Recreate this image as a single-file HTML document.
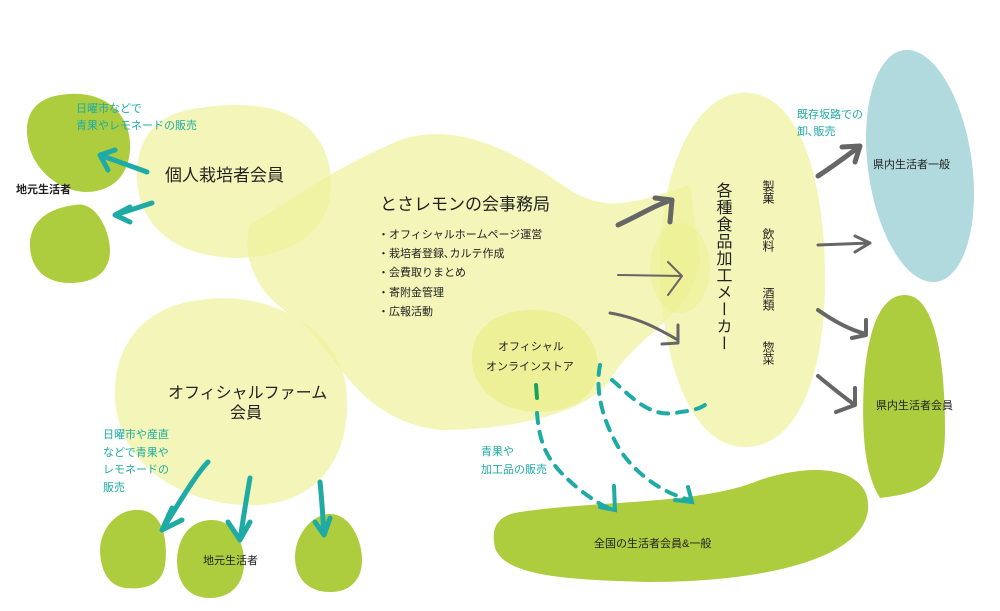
<!DOCTYPE html>
<html><head><meta charset="utf-8"><style>
html,body{margin:0;padding:0;background:#fff;}
svg{display:block;font-family:"Liberation Sans","Noto Sans CJK JP",sans-serif;}
</style></head><body>
<svg width="1000" height="611" viewBox="0 0 1000 611" xmlns="http://www.w3.org/2000/svg">
<path d="M60,95 C100,88 132,110 130,150 C128,178 110,192 85,192 C55,190 28,165 27,132 C26,110 40,98 60,95Z" fill="#adcd3e"/>
<path d="M75,205 C95,200 110,230 110,250 C110,272 95,283 70,283 C45,283 30,268 30,245 C30,220 50,208 75,205Z" fill="#adcd3e"/>
<g fill="#eef29a" fill-opacity="0.7">
<path d="M200,108 C260,98 320,110 330,170 C338,225 300,255 240,258 C180,258 140,230 137,180 C135,135 160,112 200,108Z"/>
<path d="M250,225 C300,195 330,170 400,140 C460,120 520,155 570,190 C610,215 640,200 690,185 L700,260 C690,320 640,330 610,380 C590,410 520,430 440,430 C360,420 340,360 300,320 C260,300 240,260 250,225Z"/>
<path d="M200,300 C260,290 330,320 345,380 C355,440 330,500 260,505 C190,508 120,470 115,400 C112,340 150,305 200,300Z"/>
<path d="M740,93 C800,88 825,180 825,280 C825,370 800,447 745,447 C690,447 662,360 660,270 C658,180 690,98 740,93Z"/>
</g>
<path d="M530,310 C575,308 600,340 598,370 C595,400 570,412 535,412 C495,410 470,385 472,355 C474,325 500,311 530,310Z" fill="#ebef8e" fill-opacity="0.8"/>
<ellipse cx="680" cy="268" rx="30" ry="45" fill="#ebef8e" fill-opacity="0.5"/>
<ellipse cx="920" cy="166" rx="52" ry="117" transform="rotate(-8 920 166)" fill="#b1dade"/>
<path d="M905,295 C935,295 945,360 945,430 C945,480 930,492 880,498 C862,470 862,420 864,380 C868,330 880,295 905,295Z" fill="#adcd3e"/>
<path d="M520,512 C600,500 700,505 760,480 C820,460 872,470 868,510 C862,560 760,582 650,582 C560,580 505,575 495,548 C490,525 500,515 520,512Z" fill="#adcd3e"/>
<path d="M140,510 C165,512 168,545 165,565 C162,585 145,590 125,588 C105,585 100,565 100,548 C102,525 120,508 140,510Z" fill="#adcd3e"/>
<path d="M212,520 C235,520 245,545 244,565 C243,585 230,598 210,598 C190,598 177,585 177,560 C178,535 192,520 212,520Z" fill="#adcd3e"/>
<path d="M330,514 C350,514 362,540 362,560 C362,580 350,592 330,592 C308,592 295,578 295,557 C295,535 312,514 330,514Z" fill="#adcd3e"/>
<g stroke="#1eaaa5" stroke-width="5" fill="none" stroke-linecap="round" stroke-linejoin="round">
<path d="M147,172 L100,155 M100,155 L115,150 M100,155 L108,170"/>
<path d="M152,203 L115,215 M115,215 L130,207 M115,215 L130,222"/>
<path d="M208,462 C195,475 175,510 162,530 M162,530 L172,508 M162,530 L182,520"/>
<path d="M250,478 C247,495 243,520 240,540 M240,540 L228,522 M240,540 L250,522"/>
<path d="M320,482 C322,500 323,520 324,535 M324,535 L315,522 M324,535 L330,518"/>
</g>
<g stroke="#1eaaa5" stroke-width="4" fill="none" stroke-linecap="round" stroke-dasharray="10,9">
<path d="M537,413 C540,450 550,465 580,490 C600,505 610,510 612,507"/>
<path d="M600,365 C595,390 602,420 620,450 C640,480 670,495 690,500"/>
<path d="M612,380 C630,395 650,420 680,412 C700,410 708,405 710,398"/>
</g>
<g stroke="#1eaaa5" stroke-width="4" fill="none" stroke-linecap="round">
<path d="M600,507 L615,510 L614,486"/>
<path d="M675,500 L692,502 L688,487"/>
<path d="M536,385 L537,398" stroke="#19a35a"/>
</g>
<g stroke="#666" fill="none" stroke-linecap="round" stroke-linejoin="round">
<path d="M618,225 C640,215 655,205 672,200 M655,198 L672,200 L670,222" stroke-width="5"/>
<path d="M618,275 L682,276 M668,262 L682,276 L668,295" stroke-width="2"/>
<path d="M610,313 C640,318 660,330 678,340 M678,325 L678,343 L662,344" stroke-width="3"/>
<path d="M818,176 C835,165 848,155 860,146 M842,147 L860,146 L855,162" stroke-width="5"/>
<path d="M818,245 L870,243 M855,236 L870,243 L855,252" stroke-width="3"/>
<path d="M818,310 C835,322 850,330 866,334 M866,320 L866,335 L852,338" stroke-width="4"/>
<path d="M818,376 C835,390 845,398 855,405 M855,388 L855,405 L836,412" stroke-width="4"/>
</g>
<g fill="#1eaaa5" font-size="11">
<text x="76" y="112">日曜市などで</text>
<text x="76" y="129">青果やレモネードの販売</text>
<text x="103" y="438">日曜市や産直</text>
<text x="103" y="456">などで青果や</text>
<text x="103" y="473">レモネードの</text>
<text x="103" y="491">販売</text>
<text x="481" y="455">青果や</text>
<text x="481" y="473">加工品の販売</text>
<text x="797" y="118">既存坂路での</text>
<text x="797" y="135">卸､販売</text>
</g>
<g fill="#222">
<text x="16" y="193" font-size="11" font-weight="bold">地元生活者</text>
<text x="165" y="181" font-size="17">個人栽培者会員</text>
<text x="380" y="210" font-size="17">とさレモンの会事務局</text>
<g font-size="11">
<text x="378" y="238">・オフィシャルホームページ運営</text>
<text x="378" y="257">・栽培者登録､カルテ作成</text>
<text x="378" y="276">・会費取りまとめ</text>
<text x="378" y="296">・寄附金管理</text>
<text x="378" y="315">・広報活動</text>
<text x="498" y="350">オフィシャル</text>
<text x="486" y="370">オンラインストア</text>
<text x="203" y="564">地元生活者</text>
<text x="594" y="547">全国の生活者会員&amp;一般</text>
<text x="873" y="168">県内生活者一般</text>
<text x="876" y="409">県内生活者会員</text>
</g>
<text x="168" y="398" font-size="16">オフィシャルファーム</text>
<text x="230" y="418" font-size="16">会員</text>
<text x="722" y="182" font-size="16" writing-mode="tb" letter-spacing="1">各種食品加工メーカー</text>
<g font-size="12">
<text x="768" y="180" writing-mode="tb">製菓</text>
<text x="768" y="228" writing-mode="tb">飲料</text>
<text x="768" y="287" writing-mode="tb">酒類</text>
<text x="768" y="341" writing-mode="tb">惣菜</text>
</g>
</g>
</svg>
</body></html>
